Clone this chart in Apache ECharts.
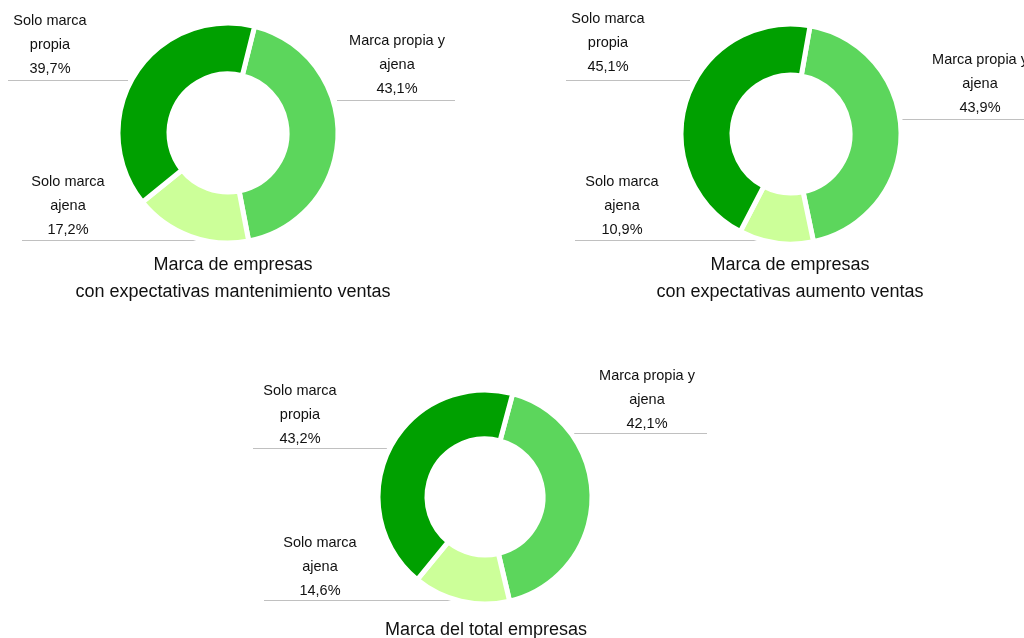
<!DOCTYPE html>
<html>
<head>
<meta charset="utf-8">
<script src="https://cdn.jsdelivr.net/npm/echarts@6/dist/echarts.min.js"></script>
<style>html,body{margin:0;padding:0;background:#fff;}#c{width:1024px;height:638px;}</style>
</head>
<body>
<div id="c"></div>
<script>
// Data
const categories = ['Marca propia y\najena', 'Solo marca\najena', 'Solo marca\npropia'];
const mantenimiento = [43.1, 17.2, 39.7];
const aumento = [43.9, 10.9, 45.1];
const total = [42.1, 14.6, 43.2];
const chartTitles = [
  'Marca de empresas\ncon expectativas mantenimiento ventas',
  'Marca de empresas\ncon expectativas aumento ventas',
  'Marca del total empresas'
];

const colors = ['#5CD65C', '#CCFF99', '#00A000'];
const font = '14.5px "Liberation Sans", Arial, sans-serif';
const titleFont = '18px "Liberation Sans", Arial, sans-serif';

// layout per chart
const layouts = [
  { values: mantenimiento, center: [228, 133], radius: [59, 110], startAngle: 76,
    labels: [[397, 65], [68, 206], [50, 45]],
    lines: [[337, 455, 100], [22, 210, 240], [8, 128, 80]],
    title: [233, 279] },
  { values: aumento, center: [791, 134], radius: [59, 110], startAngle: 80,
    labels: [[980, 84], [622, 206], [608, 43]],
    lines: [[900, 1024, 119], [575, 780, 240], [566, 690, 80]],
    title: [790, 279] },
  { values: total, center: [485, 497], radius: [58, 107], startAngle: 75,
    labels: [[647, 400], [320, 567], [300, 415]],
    lines: [[568, 707, 433], [264, 472, 600], [253, 390, 448]],
    title: [486, 630] }
];

const fmt = v => v.toFixed(1).replace('.', ',') + '%';

const series = layouts.map(l => ({
  type: 'pie',
  center: l.center,
  radius: l.radius,
  startAngle: l.startAngle,
  clockwise: true,
  silent: true,
  animation: false,
  z: 5,
  label: { show: false },
  labelLine: { show: false },
  itemStyle: { borderColor: '#ffffff', borderWidth: 5 },
  data: l.values.map((v, i) => ({ name: categories[i], value: v, itemStyle: { color: colors[i] } }))
}));

const graphics = [];
layouts.forEach((l, k) => {
  l.values.forEach((v, i) => {
    const ln = l.lines[i];
    graphics.push({
      type: 'line', z: 1, silent: true,
      shape: { x1: ln[0], y1: ln[2] + 0.5, x2: ln[1], y2: ln[2] + 0.5 },
      style: { stroke: '#C0C0C0', lineWidth: 1 }
    });
    graphics.push({
      type: 'text', z: 10, silent: true,
      style: {
        x: l.labels[i][0], y: l.labels[i][1],
        text: categories[i] + '\n' + fmt(v),
        font: font, fill: '#111', textAlign: 'center', textVerticalAlign: 'middle',
        lineHeight: 24
      }
    });
  });
  graphics.push({
    type: 'text', z: 10, silent: true,
    style: {
      x: l.title[0], y: l.title[1],
      text: chartTitles[k],
      font: titleFont, fill: '#111', textAlign: 'center', textVerticalAlign: 'middle',
      lineHeight: 27
    }
  });
});

const chart = echarts.init(document.getElementById('c'), null, { renderer: 'canvas' });
chart.setOption({
  backgroundColor: '#ffffff',
  animation: false,
  series: series,
  graphic: graphics
});
</script>
</body>
</html>
